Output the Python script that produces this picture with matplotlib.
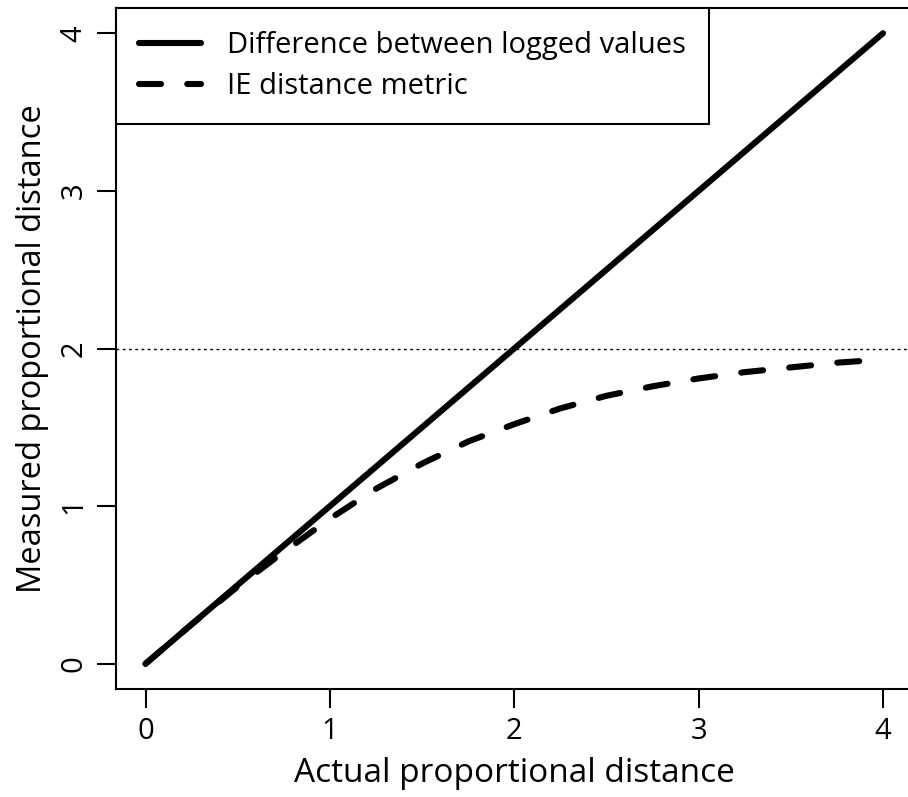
import matplotlib.pyplot as plt
import matplotlib as mpl

mpl.rcParams['font.family'] = ['Open Sans', 'DejaVu Sans']

# actual proportional distance
x = [0, 0.25, 0.5, 0.75, 1, 1.25, 1.5, 1.75, 2, 2.25, 2.5, 2.75, 3, 3.25, 3.5, 3.75, 4]
# difference between logged values
logdiff = [0, 0.25, 0.5, 0.75, 1, 1.25, 1.5, 1.75, 2, 2.25, 2.5, 2.75, 3, 3.25, 3.5, 3.75, 4]
# IE distance metric
ie = [0, 0.25, 0.49, 0.71, 0.92, 1.11, 1.27, 1.41, 1.52, 1.62, 1.70, 1.76, 1.81, 1.85, 1.88, 1.91, 1.93]

fig = plt.figure(figsize=(9.08, 7.97), dpi=100)
ax = fig.add_axes([116/908, 108/797, 796.5/908, 681/797])

ax.plot(x, logdiff, color='black', lw=4.4, solid_capstyle='round',
        label='Difference between logged values')
ax.plot(x, ie, color='black', lw=4.4, dashes=(3.6, 4.3), dash_capstyle='round',
        label='IE distance metric')
ax.axhline(2, color='black', lw=1, ls=(0, (2, 2.5)))

ax.set_xlim(-0.16, 4.16)
ax.set_ylim(-0.16, 4.16)
ax.set_xticks([0, 1, 2, 3, 4])
ax.set_yticks([0, 1, 2, 3, 4])
ax.tick_params(direction='out', length=14, width=1.5, labelsize=21, pad=6)
for lab in ax.get_yticklabels():
    lab.set_rotation(90)
    lab.set_va('center')
for s in ax.spines.values():
    s.set_linewidth(1.5)
ax.spines['right'].set_visible(False)

ax.set_xlabel('Actual proportional distance', fontsize=24, labelpad=8)
ax.set_ylabel('Measured proportional distance', fontsize=23.5, labelpad=7)

leg = ax.legend(loc='upper left', borderaxespad=0, fancybox=False, framealpha=1,
                edgecolor='black', fontsize=21, handlelength=2.1, handletextpad=0.9,
                borderpad=0.8, labelspacing=0.4)
leg.get_frame().set_linewidth(1.5)

fig.savefig('out.png', dpi=100)
